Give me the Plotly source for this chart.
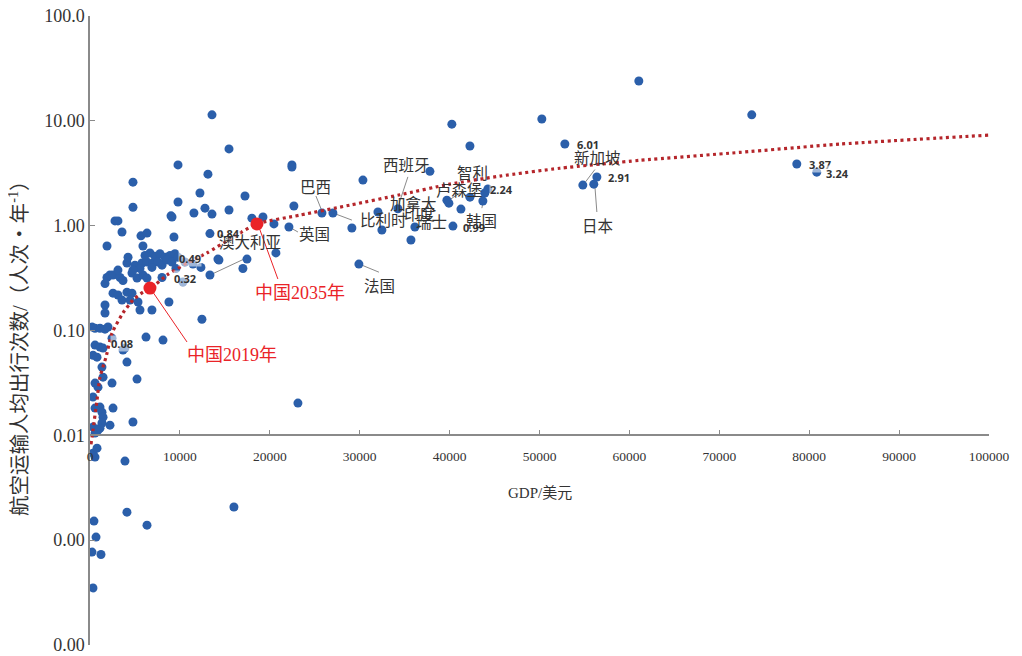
import math
import plotly.graph_objects as go

# ---- data ----
gdp = [13570, 15460, 9790, 4780, 13120, 12230, 17240, 4780, 9790, 9010, 9120, 11560, 12790, 13570,
       15460, 18010, 19240, 20460, 22130, 22460, 22460, 22680, 25800, 27020, 29130, 30360, 32470,
       32030, 34250, 35700, 36140, 37810, 39700, 39920, 40370, 41260, 42260, 43700, 44260, 43920,
       42260, 40250, 50260, 52820, 54820, 56040, 56380, 61050, 73610, 78620, 80840, 29910, 23130,
       20680, 17460, 17010, 14230, 14340, 13340, 12340, 11450, 10340, 12450, 8120, 6230, 5230, 4110,
       3670, 3890, 4780, 2450, 2560, 2220,
       560, 1110, 1670, 220, 2000, 2450, 560, 1110, 1450, 330, 780, 1330, 1450, 560, 890, 330, 1110,
       1330, 560, 1450, 1330, 330, 890, 560, 1110, 330, 780, 560, 3890, 16010, 4110, 440, 6340, 670,
       220, 1220, 330,
       1670, 1670, 2560, 3110, 4110, 4670, 3560, 4450, 5340, 5560, 6890, 8780, 1890, 2220, 2560, 3340,
       3670, 1670, 4670, 5230, 5890, 6340, 4110, 5000, 5780, 6340, 7000, 8010, 8010, 1890, 2780, 3110,
       3560, 5670, 6340, 5890, 9340, 13340,
       6120, 6670, 7230, 7780, 8340, 8900, 9450, 8560, 7560, 9120, 9790, 6890, 5560, 4780, 4230, 3110,
       9560, 10560]
trips = [11.4, 5.4, 3.8, 2.6, 3.1, 2.05, 1.92, 1.50, 1.68, 1.24, 1.21, 1.32, 1.47, 1.29,
         1.41, 1.18, 1.21, 1.04, 0.97, 3.79, 3.62, 1.54, 1.32, 1.32, 0.95, 2.72, 0.91,
         1.35, 1.45, 0.73, 0.97, 3.3, 1.75, 1.64, 0.99, 1.44, 1.87, 1.72, 2.24, 2.05,
         5.75, 9.3, 10.4, 6.01, 2.44, 2.49, 2.91, 24.0, 11.4, 3.87, 3.24, 0.43, 0.0203,
         0.55, 0.48, 0.39, 0.48, 0.47, 0.338, 0.40, 0.43, 0.29, 0.128, 0.081, 0.0865, 0.0344, 0.050,
         0.065, 0.068, 0.0134, 0.0315, 0.0182, 0.0125,
         0.105, 0.105, 0.103, 0.108, 0.108, 0.0845, 0.0726, 0.0695, 0.068, 0.058, 0.0557, 0.0448, 0.0359,
         0.0315, 0.0288, 0.0232, 0.0186, 0.0166, 0.0182, 0.0149, 0.0131, 0.012, 0.0112, 0.0105, 0.0117,
         0.00676, 0.00755, 0.0062, 0.00568, 0.00207, 0.00185, 0.00152, 0.00139, 0.00107, 0.00077,
         0.00073, 0.00035,
         0.175, 0.147, 0.227, 0.218, 0.232, 0.227, 0.195, 0.195, 0.187, 0.157, 0.157, 0.187, 0.32, 0.338,
         0.338, 0.32, 0.30, 0.28, 0.353, 0.316, 0.338, 0.316, 0.44, 0.42, 0.44, 0.45, 0.44, 0.42, 0.32,
         0.64, 1.11, 1.11, 0.87, 0.80, 0.85, 0.64, 0.78, 0.84,
         0.52, 0.55, 0.51, 0.54, 0.50, 0.52, 0.54, 0.47, 0.45, 0.45, 0.50, 0.40, 0.39, 0.377, 0.50, 0.377,
         0.39, 0.45]

trend_gdp = [110, 330, 780, 1110, 1780, 2450, 3670, 4780, 5890, 6780, 8560, 10790, 13010, 15570,
             18570, 23350, 28910, 34470, 40030, 45590, 52260, 61160, 72280, 83400, 99970]
trend_trips = [0.0082, 0.0112, 0.0217, 0.0359, 0.0557, 0.0944, 0.147, 0.195, 0.232, 0.254, 0.338,
               0.44, 0.55, 0.745, 1.04, 1.26, 1.57, 1.97, 2.49, 2.97, 3.53, 4.2, 5.0, 6.0, 7.3]

china_labels = ["中国2019年", "中国2035年"]
china_gdp = [6670, 18570]
china_trips = [0.254, 1.04]
china_label_gdp = [15800, 23350]
china_label_trips = [0.0582, 0.2275]
china_line_gdp = [[7000, 10790], [18790, 20900]]
china_line_trips = [[0.232, 0.0777], [0.97, 0.31]]

country_labels = ["澳大利亚", "英国", "巴西", "比利时", "西班牙", "加拿大", "印度", "瑞士",
                  "卢森堡", "智利", "韩国", "新加坡", "日本", "法国"]
country_gdp = [17800, 25000, 25100, 32600, 35250, 36000, 36700, 38000, 41150, 42500, 43600,
               56500, 56400, 32250]
country_trips = [0.713, 0.85, 2.39, 1.156, 3.87, 1.64, 1.32, 1.107, 2.23, 3.24, 1.13, 4.52, 1.01,
                 0.271]

value_labels = ["0.84", "0.49", "0.32", "0.08", "0.99", "2.24", "2.91", "6.01", "3.87", "3.24"]
value_gdp = [15460, 11100, 10560, 3560, 42700, 45800, 58800, 55400, 81200, 83100]
value_trips = [0.85, 0.49, 0.31, 0.0759, 0.97, 2.23, 2.91, 6.0, 3.87, 3.17]

leader_gdp = [[13340, 17570], [22350, 23130], [25130, 25800], [27350, 29130], [35360, 34360],
              [40140, 41150], [43920, 43590], [56160, 54930], [56160, 56380], [30250, 32140]]
leader_trips = [[0.338, 0.50], [0.95, 0.87], [1.92, 1.38], [1.29, 1.13], [2.92, 1.61],
                [1.80, 2.05], [2.0, 1.47], [3.43, 2.49], [2.39, 1.35], [0.42, 0.36]]

y_tickvals = [0.0001, 0.001, 0.01, 0.1, 1, 10, 100]
y_ticktext = ["0.00", "0.00", "0.01", "0.10", "1.00", "10.00", "100.0"]
x_tickvals = list(range(0, 100001, 10000))

BLUE = "#2b5faa"
RED = "#ea2328"
TREND = "#b5262b"
GREY = "#8a8a8a"
TXT = "#333333"
SERIF = "Liberation Serif, Noto Sans CJK SC, serif"
CJK = "Noto Sans CJK SC, sans-serif"

fig = go.Figure()

# leader lines (grey)
lx, ly = [], []
for xs, ys in zip(leader_gdp, leader_trips):
    lx += xs + [None]
    ly += ys + [None]
fig.add_trace(go.Scatter(x=lx, y=ly, mode="lines", line=dict(color=GREY, width=1),
                         hoverinfo="skip"))

fig.add_trace(go.Scatter(x=gdp, y=trips, mode="markers",
                         marker=dict(size=9, color=BLUE, line=dict(width=0))))

fig.add_trace(go.Scatter(x=trend_gdp, y=trend_trips, mode="lines",
                         line=dict(color=TREND, width=3.2, dash="3px,3.5px", shape="spline",
                                   smoothing=0.6)))

# red leader lines
rx, ry = [], []
for xs, ys in zip(china_line_gdp, china_line_trips):
    rx += xs + [None]
    ry += ys + [None]
fig.add_trace(go.Scatter(x=rx, y=ry, mode="lines", line=dict(color=RED, width=1),
                         hoverinfo="skip"))

fig.add_trace(go.Scatter(x=china_gdp, y=china_trips, mode="markers",
                         marker=dict(size=13, color=RED, line=dict(width=0))))

annotations = []
for t, x, y in zip(value_labels, value_gdp, value_trips):
    annotations.append(dict(x=x, y=math.log10(y), xref="x", yref="y", text="<b>%s</b>" % t,
                            showarrow=False, font=dict(family="Open Sans, sans-serif", size=11,
                                                       color=TXT),
                            bgcolor="rgba(255,255,255,0.55)", borderpad=0))
for t, x, y in zip(country_labels, country_gdp, country_trips):
    annotations.append(dict(x=x, y=math.log10(y), xref="x", yref="y", text=t, showarrow=False,
                            font=dict(family=CJK, size=15.5, color=TXT)))
for t, x, y in zip(china_labels, china_label_gdp, china_label_trips):
    annotations.append(dict(x=x, y=math.log10(y), xref="x", yref="y", text=t, showarrow=False,
                            font=dict(family=SERIF, size=18, color=RED)))

annotations.append(dict(x=0.5006, y=0.2417, xref="paper", yref="paper", text="GDP/美元",
                        xanchor="center", yanchor="middle",
                        showarrow=False, font=dict(family=SERIF, size=15, color=TXT)))
annotations.append(dict(x=-0.0801, y=0.48, xref="paper", yref="paper", textangle=-90,
                        xanchor="center", yanchor="middle",
                        text="航空运输人均出行次数/（人次・年<sup>-1</sup>）", showarrow=False,
                        font=dict(family=SERIF, size=20.5, color=TXT)))

# the page body adds an 8px offset, so the figure is sized to fit the window
fig.update_layout(
    width=1014, height=648,
    margin=dict(l=82, r=33, t=8, b=11, autoexpand=False),
    plot_bgcolor="white", paper_bgcolor="white",
    showlegend=False,
    annotations=annotations,
    xaxis=dict(range=[0, 100000], tickvals=x_tickvals, ticktext=[str(v) for v in x_tickvals],
               ticks="inside", ticklen=5, tickcolor=GREY, tickwidth=1, automargin=False,
               showline=True, linecolor=GREY, linewidth=1.5, showgrid=False, zeroline=False,
               anchor="free", position=1 / 3, ticklabelstandoff=9, ticklabeloverflow="allow",
               tickfont=dict(family=SERIF, size=13.5, color=TXT)),
    yaxis=dict(type="log", range=[-4, 2], tickvals=y_tickvals, ticktext=y_ticktext,
               ticks="inside", ticklen=5, tickcolor=GREY, tickwidth=1, automargin=False,
               showline=True, linecolor=GREY, linewidth=1.5, showgrid=False, zeroline=False,
               ticklabeloverflow="allow",
               tickfont=dict(family=SERIF, size=18, color=TXT)),
)

fig.write_html("out.html")
